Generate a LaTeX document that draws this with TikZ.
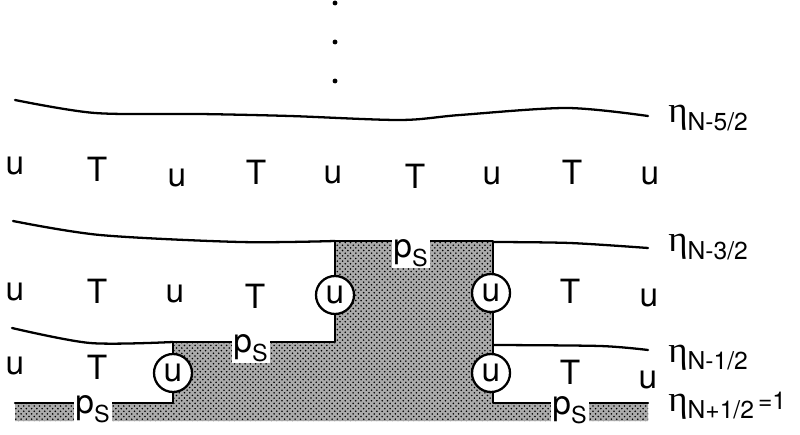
\documentclass[tikz,border=0pt]{standalone}
\usepackage{amsmath}
\usepackage{fontspec}
\setsansfont{TeX Gyre Heros}
\newfontfamily\etafont{Liberation Serif}
\usetikzlibrary{patterns}

\newcommand{\etasub}[1]{{\fontsize{21}{21}\etafont η}\raisebox{-4pt}{\fontsize{14}{14}\sffamily #1}}

\begin{document}
\begin{tikzpicture}[
        x=0.02cm, y=-0.02cm,
        letter/.style={font=\fontsize{19}{19}\sffamily, inner sep=0pt},
        ucircle/.style={circle, draw=black, line width=1.3pt, fill=white, minimum size=0.76cm, inner sep=0pt, font=\fontsize{19}{19}\sffamily},
        eta_label/.style={anchor=base west, inner sep=0pt},
        ps_label/.style={fill=white, inner sep=1pt, font=\fontsize{19}{19}\selectfont},
        level/.style={line width=1.3pt, line cap=round, line join=round},
        solid_region/.style={preaction={fill=black!33}, pattern=crosshatch dots, pattern color=black}
    ]

        \useasboundingbox (0,0) rectangle (800,435);

        % vertical dots
        \foreach \y in {3, 42, 81}
            \fill (335,\y) circle (1.4pt);

        % corners of the solid region
        \coordinate (a1) at (15,403);
        \coordinate (a2) at (173,403);
        \coordinate (a3) at (173,342);
        \coordinate (a4) at (335,342);
        \coordinate (a5) at (335,241);
        \coordinate (a6) at (493,241);
        \coordinate (a7) at (493,403);
        \coordinate (a8) at (648,403);

        \fill[solid_region] (a1) -- (a2) -- (a3) -- (a4) -- (a5) -- (a6) -- (a7) -- (a8) -- (648,421) -- (15,421) -- cycle;

        % interfaces
        \draw[level] plot[smooth] coordinates {(15,100) (95,113) (200,114) (290,116) (400,120) (460,115) (567,108) (648,116)};
        \draw[level] plot[smooth] coordinates {(13,221) (100,235) (240,242) (335,241)};
        \draw[level] plot[smooth] coordinates {(493,242) (570,243) (648,248)};
        \draw[level] plot[smooth] coordinates {(12,328) (90,343) (173,342)};
        \draw[level] plot[smooth] coordinates {(493,345) (600,346) (648,350)};

        \draw[level] (a1) -- (a2) -- (a3) -- (a4) -- (a5) -- (a6) -- (a7) -- (a8);

        \node[eta_label] (eta1) at (668,123) {\etasub{N-5/2}};
        \node[eta_label] (eta2) at (668,252) {\etasub{N-3/2}};
        \node[eta_label] (eta3) at (668,362) {\etasub{N-1/2}};
        \node[eta_label] (eta4) at (668,411) {\etasub{N+1/2}\raisebox{1pt}{\fontsize{14}{14}\sffamily\,=1}};

        % cells
        \foreach \x/\y/\t in {15/166/u, 97/169/T, 177/178/u, 256/172/T, 333/175/u, 415/176/T, 492/176/u, 572/172/T, 650/176/u}
            \node[letter] (r1-\x) at (\x,\y) {\t};

        \foreach \x/\y/\t in {15/292/u, 97/291/T, 175/294/u, 255/296/T, 570/291/T, 649/298/u}
            \node[letter] (r2-\x) at (\x,\y) {\t};

        \foreach \x/\y/\t in {15/366/u, 97/367/T, 570/372/T, 648/380/u}
            \node[letter] (r3-\x) at (\x,\y) {\t};

        \node[ucircle] (c1) at (335,295) {u};
        \node[ucircle] (c2) at (491,293) {u};
        \node[ucircle] (c3) at (173,373) {u};
        \node[ucircle] (c4) at (491,373) {u};

        \node[ps_label] (ps1) at (411,253) {$\textsf{p}_{\textsf{S}}$};
        \node[ps_label] (ps2) at (251,348) {$\textsf{p}_{\textsf{S}}$};
        \node[ps_label] (ps3) at (93,409) {$\textsf{p}_{\textsf{S}}$};
        \node[ps_label] (ps4) at (570,410) {$\textsf{p}_{\textsf{S}}$};
    \end{tikzpicture}
\end{document}
